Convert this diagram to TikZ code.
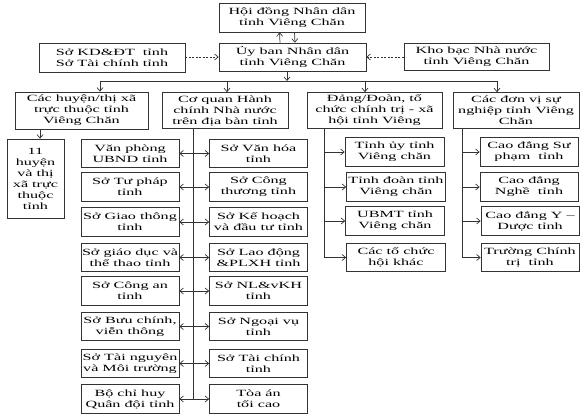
\documentclass[tikz,border=0pt]{standalone}
\usepackage{fontspec}
\setmainfont{Liberation Serif}[FakeStretch=1.7]
\usepackage{tikz}
\usetikzlibrary{arrows.meta}

\begin{document}
\begin{tikzpicture}[x=1pt,y=-1pt,>={Straight Barb[length=3.5pt,width=6pt]},
  box/.style={draw=black!80,line width=0.7pt,align=center,inner xsep=1pt,inner ysep=2pt,font=\fontsize{9.5}{11}\selectfont},
  unit/.style={box,minimum width=98pt,minimum height=28.5pt},
  link/.style={line width=0.7pt,black!80}]
\useasboundingbox (0,0) rectangle (584,417);
% top level
\node[box,minimum width=146pt,minimum height=29pt] (hdnd) at (292,17.5) {Hội đồng Nhân dân\\tỉnh Viêng Chăn};
\node[box,minimum width=147pt,minimum height=28pt] (ubnd) at (292.5,57) {Ủy ban Nhân dân\\tỉnh Viêng Chăn};
\node[box,minimum width=146pt,minimum height=29pt] (sokd) at (112,57.5) {Sở KD\&ĐT~ tỉnh\\Sở Tài chính tỉnh};
\node[box,minimum width=145pt,minimum height=27pt] (khobac) at (476.5,56.5) {Kho bạc Nhà nước\\tỉnh Viêng Chăn};
\draw[->,link] ([xshift=-12.5pt]ubnd.north) -- ([xshift=-12.5pt]hdnd.south);
\draw[->,link] ([xshift=2.5pt]hdnd.south) -- ([xshift=2.5pt]ubnd.north);
\draw[->,link,dash pattern=on 2pt off 1.5pt] (sokd.east |- ubnd.west) -- (ubnd.west);
\draw[->,link,dash pattern=on 2pt off 1.5pt] (khobac.west |- ubnd.east) -- (ubnd.east);

% second level
\node[box,minimum width=133pt,minimum height=37pt] (huyen) at (81.5,110.5) {Các huyện/thị xã\\trực thuộc tỉnh\\Viêng Chăn};
\node[box,minimum width=126pt,minimum height=36pt] (coquan) at (225,110.5) {Cơ quan Hành\\chính Nhà nước\\trên địa bàn tỉnh};
\node[box,minimum width=135pt,minimum height=36pt] (dang) at (374.5,110.5) {Đảng/Đoàn, tổ\\chức chính trị - xã\\hội tỉnh Viêng};
\node[box,minimum width=126pt,minimum height=36pt] (donvi) at (516,110.5) {Các đơn vị sự\\nghiệp tỉnh Viêng\\Chăn};
\coordinate (bus) at (287,81);
\coordinate (busA) at (100,81);
\coordinate (busB) at (227,81);
\coordinate (busC) at (365,81);
\coordinate (busD) at (497,81);
\draw[->,link] (ubnd.south -| bus) -- (bus);
\draw[link] (busA) -- (busD);
\draw[->,link] (busA) -- (busA |- huyen.north);
\draw[->,link] (busB) -- (busB |- coquan.north);
\draw[->,link] (busC) -- (busC |- dang.north);
\draw[->,link] (busD) -- (busD |- donvi.north);

% districts
\node[box,minimum width=57pt,minimum height=79pt] (mh) at (35.5,178.5) {11\\huyện\\và thị\\xã trực\\thuộc\\tỉnh};
\draw[->,link] ([xshift=4.5pt]mh.north |- huyen.south) -- ([xshift=4.5pt]mh.north);

% state administration
\node[unit] (vp) at (130,153.5) {Văn phòng\\UBND tỉnh};
\node[unit] (tp) at (130,187) {Sở Tư pháp\\tỉnh};
\node[unit] (gt) at (130,222) {Sở Giao thông\\tỉnh};
\node[unit] (gd) at (130,257.5) {Sở giáo dục và\\thể thao tỉnh};
\node[unit] (ca) at (130,291) {Sở Công an\\tỉnh};
\node[unit] (bc) at (130,326.5) {Sở Bưu chính,\\viễn thông};
\node[unit] (tn) at (130,363.5) {Sở Tài nguyên\\và Môi trường};
\node[unit] (qd) at (130,399) {Bộ chỉ huy\\Quân đội tỉnh};
\node[unit] (vh) at (258.5,153.5) {Sở Văn hóa\\tỉnh};
\node[unit] (ct) at (258.5,187) {Sở Công\\thương tỉnh};
\node[unit] (kh) at (258.5,222) {Sở Kế hoạch\\và đầu tư tỉnh};
\node[unit] (ld) at (258.5,257.5) {Sở Lao động\\\&PLXH tỉnh};
\node[unit] (nl) at (258.5,291) {Sở NL\&vKH\\tỉnh};
\node[unit] (nv) at (258.5,326.5) {Sở Ngoại vụ\\tỉnh};
\node[unit] (tc) at (258.5,363.5) {Sở Tài chính\\tỉnh};
\node[unit] (ta) at (258.5,399) {Tòa án\\tối cao};
\coordinate (cqend) at (193,399);
\draw[link] (coquan.south -| cqend) -- (cqend);
\draw[<->,link] (vp) -- (vh);
\draw[<->,link] (tp) -- (ct);
\draw[<->,link] (gt) -- (kh);
\draw[<->,link] (gd) -- (ld);
\draw[<->,link] (ca) -- (nl);
\draw[<->,link] (bc) -- (nv);
\draw[<->,link] (tn) -- (tc);
\draw[<->,link] (qd) -- (ta);

% party and unions
\node[unit,minimum width=99pt] (tu) at (394.5,152) {Tỉnh ủy tỉnh\\Viêng chăn};
\node[unit,minimum width=99pt] (td) at (396,187) {Tỉnh đoàn tỉnh\\Viêng chăn};
\node[unit,minimum width=99pt] (mt) at (395,221) {UBMT tỉnh\\Viêng chăn};
\node[unit,minimum width=99pt] (hk) at (396,257.5) {Các tổ chức\\hội khác};
\coordinate (dgend) at (324,257.5);
\draw[link] (dang.south -| dgend) -- (dgend);
\draw[->,link] (dgend |- tu.west) -- (tu.west);
\draw[->,link] (dgend |- td.west) -- (td.west);
\draw[->,link] (dgend |- mt.west) -- (mt.west);
\draw[->,link] (dgend) -- (hk.west);

% public service units
\node[unit] (sp) at (529,152) {Cao đẳng Sư\\phạm~ tỉnh};
\node[unit] (ng) at (529,187) {Cao đẳng\\Nghề~ tỉnh};
\node[unit] (yd) at (530,221) {Cao đẳng Y –\\Dược tỉnh};
\node[unit] (tr) at (530,257.5) {Trường Chính\\trị~ tỉnh};
\coordinate (dvend) at (462,257.5);
\draw[link] (donvi.south -| dvend) -- (dvend);
\draw[->,link] (dvend |- sp.west) -- (sp.west);
\draw[->,link] (dvend |- ng.west) -- (ng.west);
\draw[->,link] (dvend |- yd.west) -- (yd.west);
\draw[->,link] (dvend) -- (tr.west);
\end{tikzpicture}
\end{document}
